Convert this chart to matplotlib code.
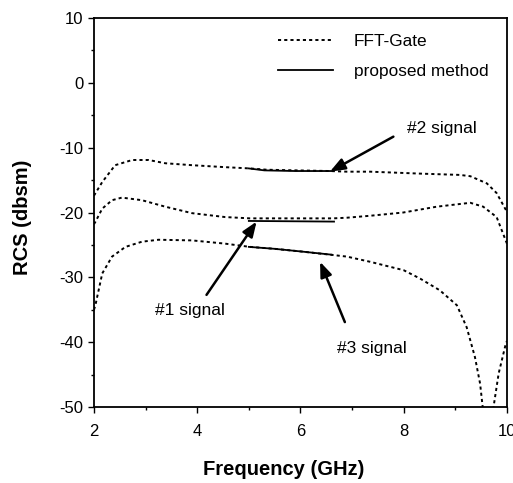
import matplotlib
matplotlib.use("Agg")
import matplotlib.pyplot as plt
from matplotlib.ticker import MultipleLocator

plt.rcParams['font.family'] = ['Liberation Sans', 'DejaVu Sans']
plt.rcParams['axes.unicode_minus'] = False

# FFT-Gate curves
freq_s2 = [2.0, 2.03, 2.16, 2.41, 2.74, 3.06, 3.38, 3.9, 4.53, 5.02, 5.35, 5.93, 6.57, 6.9,
           7.35, 8.32, 9.09, 9.29, 9.61, 9.8, 10.0]
fft_s2 = [-17.4, -17.0, -15.3, -12.7, -11.9, -11.9, -12.4, -12.7, -13.0, -13.2, -13.4, -13.5,
          -13.6, -13.7, -13.7, -14.0, -14.2, -14.4, -15.5, -17.0, -19.9]

freq_s1 = [2.0, 2.03, 2.16, 2.35, 2.54, 2.93, 3.38, 3.9, 4.54, 5.02, 5.5, 6.0, 6.64, 6.9,
           7.35, 7.99, 8.64, 9.29, 9.54, 9.8, 10.0]
fft_s1 = [-21.8, -21.4, -19.4, -18.1, -17.7, -18.1, -19.1, -20.1, -20.7, -20.9, -20.9, -20.9,
          -20.9, -20.8, -20.5, -20.0, -19.1, -18.5, -19.1, -20.7, -24.8]

freq_s3 = [2.0, 2.03, 2.16, 2.35, 2.61, 2.93, 3.25, 3.9, 4.54, 5.02, 5.5, 6.0, 6.57, 6.9,
           7.35, 8.0, 8.32, 8.7, 9.03, 9.22, 9.38, 9.48, 9.53, 9.63, 9.74, 9.84, 9.97, 10.0]
fft_s3 = [-35.0, -34.2, -29.4, -26.8, -25.3, -24.5, -24.2, -24.3, -24.8, -25.3, -25.6, -26.0,
          -26.5, -26.8, -27.6, -28.9, -30.2, -32.0, -34.3, -37.7, -42.3, -46.4, -50.0, -65.0,
          -50.0, -44.8, -40.5, -39.8]

# proposed method segments
prop_f2 = [5.0, 5.3, 5.9, 6.6]
prop_s2 = [-13.2, -13.5, -13.6, -13.6]
prop_f1 = [5.0, 6.65]
prop_s1 = [-21.3, -21.4]
prop_f3 = [5.0, 5.5, 6.0, 6.6]
prop_s3 = [-25.3, -25.6, -26.0, -26.5]

labels = ["#2 signal", "#1 signal", "#3 signal"]
label_pos = [(8.07, -7.0), (3.18, -35.1), (6.71, -40.9)]
arrow_tail = [(7.80, -8.3), (4.18, -32.7), (6.86, -36.9)]
arrow_head = [(6.57, -13.7), (5.15, -21.4), (6.38, -27.6)]

fig = plt.figure(figsize=(5.13, 4.83), dpi=100)
ax = fig.add_axes([0.1832, 0.1573, 0.805, 0.8054])

dot = (0, (1.6, 1.6))
ax.plot(freq_s2, fft_s2, color='black', lw=1.4, ls=dot, label='FFT-Gate')
ax.plot(freq_s1, fft_s1, color='black', lw=1.4, ls=dot)
ax.plot(freq_s3, fft_s3, color='black', lw=1.4, ls=dot)
ax.plot(prop_f2, prop_s2, color='black', lw=1.3, label='proposed method')
ax.plot(prop_f1, prop_s1, color='black', lw=1.3)
ax.plot(prop_f3, prop_s3, color='black', lw=1.3)

for lab, pos, tail, head in zip(labels, label_pos, arrow_tail, arrow_head):
    ax.text(pos[0], pos[1], lab, fontsize=12.5, ha='left', va='center')
    ax.annotate('', xy=head, xytext=tail,
                arrowprops=dict(arrowstyle='-|>,head_length=0.9,head_width=0.35',
                                color='black', lw=1.8, shrinkA=0, shrinkB=0))

ax.set_xlim(2, 10)
ax.set_ylim(-50, 10)
ax.xaxis.set_major_locator(MultipleLocator(2))
ax.xaxis.set_minor_locator(MultipleLocator(1))
ax.yaxis.set_major_locator(MultipleLocator(10))
ax.yaxis.set_minor_locator(MultipleLocator(5))
ax.tick_params(which='major', direction='out', length=4.5, width=1, labelsize=12)
ax.tick_params(which='minor', direction='out', length=2.2, width=1)
ax.tick_params(axis='x', which='major', pad=8)
ax.tick_params(axis='y', which='major', pad=3)
for sp in ax.spines.values():
    sp.set_linewidth(1.3)

ax.set_xlabel('Frequency (GHz)', fontsize=14.5, fontweight='bold')
ax.set_ylabel('RCS (dbsm)', fontsize=14.5, fontweight='bold')
ax.xaxis.set_label_coords(0.46, -0.135)
ax.yaxis.set_label_coords(-0.15, 0.487)

ax.legend(loc='upper left', bbox_to_anchor=(0.446, 0.958), frameon=False, fontsize=12.4,
          handlelength=3.2, handletextpad=1.2, labelspacing=0.85, borderpad=0,
          borderaxespad=0)

fig.savefig('out.png', dpi=100)
